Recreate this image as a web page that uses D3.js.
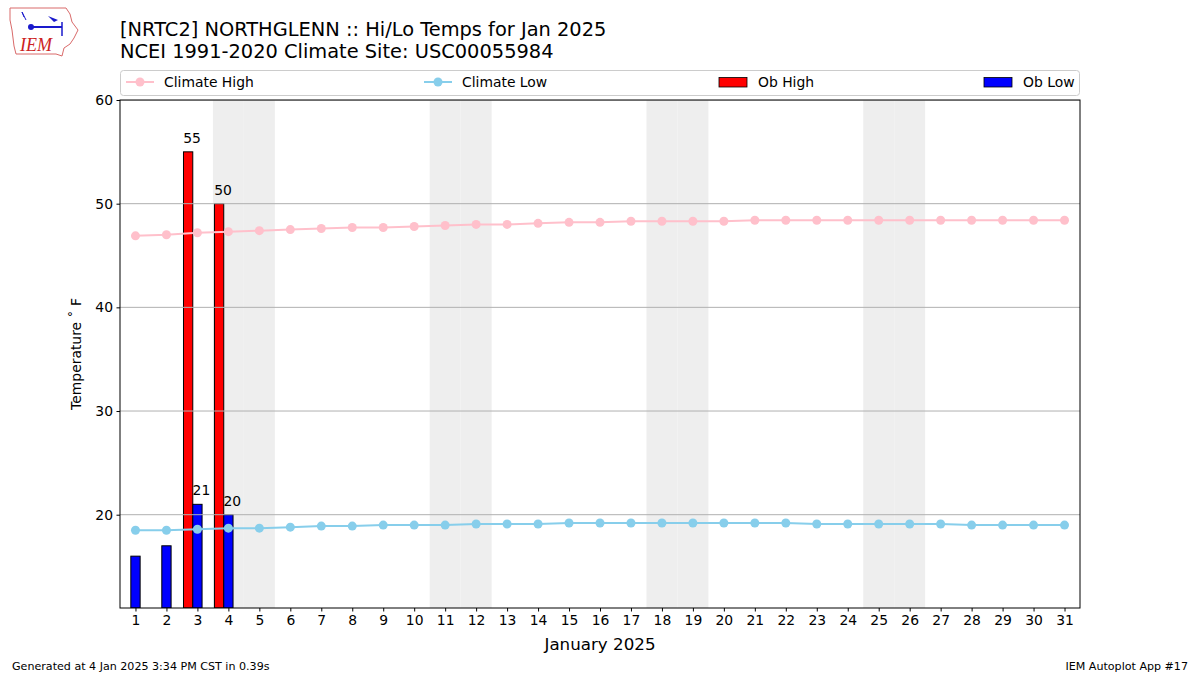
<!DOCTYPE html>
<html>
<head>
<meta charset="utf-8">
<script src="https://cdn.jsdelivr.net/npm/d3@7"></script>
<style>
  body { margin: 0; background: #fff; }
  svg { display: block; font-family: "DejaVu Sans", sans-serif; }
</style>
</head>
<body>
<svg id="chart" width="1200" height="675"></svg>
<script>
// ---------------- data ----------------
const days = d3.range(1, 32);
const climateHigh = [46.9, 47.0, 47.2, 47.3, 47.4, 47.5, 47.6, 47.7, 47.7, 47.8,
                     47.9, 48.0, 48.0, 48.1, 48.2, 48.2, 48.3, 48.3, 48.3, 48.3,
                     48.4, 48.4, 48.4, 48.4, 48.4, 48.4, 48.4, 48.4, 48.4, 48.4, 48.4];
const climateLow = [18.5, 18.5, 18.6, 18.7, 18.7, 18.8, 18.9, 18.9, 19.0, 19.0,
                    19.0, 19.1, 19.1, 19.1, 19.2, 19.2, 19.2, 19.2, 19.2, 19.2,
                    19.2, 19.2, 19.1, 19.1, 19.1, 19.1, 19.1, 19.0, 19.0, 19.0, 19.0];
const obDays = [1, 2, 3, 4];
const obHigh = [null, null, 55, 50];
const obLow = [16, 17, 21, 20];
const weekendDays = [4, 5, 11, 12, 18, 19, 25, 26];
const yTicks = [20, 30, 40, 50, 60];
const titleLines = ["[NRTC2] NORTHGLENN :: Hi/Lo Temps for Jan 2025",
                    "NCEI 1991-2020 Climate Site: USC00055984"];
const legendItems = [
  {label: "Climate High", type: "line", color: "#ffc0cb"},
  {label: "Climate Low", type: "line", color: "#87ceeb"},
  {label: "Ob High", type: "rect", color: "#ff0000"},
  {label: "Ob Low", type: "rect", color: "#0000ff"}
];

// ---------------- layout ----------------
const FS = 13.9;
const svg = d3.select("#chart");
const L = 120, R = 1080, T = 100, B = 608;
const x = d3.scaleLinear().domain([0.5, 31.5]).range([L, R]);
const y = d3.scaleLinear().domain([11, 60]).range([B, T]);
const dayW = x(1) - x(0);
const barW = 0.3 * dayW;

svg.append("defs").append("clipPath").attr("id", "plotclip")
  .append("rect").attr("x", L).attr("y", T).attr("width", R - L).attr("height", B - T);

const plot = svg.append("g").attr("clip-path", "url(#plotclip)");

// weekend shading
plot.selectAll("rect.wk").data(weekendDays).enter().append("rect")
  .attr("class", "wk")
  .attr("x", d => x(d - 0.5)).attr("y", T)
  .attr("width", dayW).attr("height", B - T)
  .attr("fill", "#eeeeee");

// bars
const obs = obDays.map((d, i) => ({day: d, hi: obHigh[i], lo: obLow[i]}));
plot.selectAll("rect.hi").data(obs.filter(o => o.hi != null)).enter().append("rect")
  .attr("class", "hi")
  .attr("x", d => x(d.day - 0.45)).attr("y", d => y(d.hi))
  .attr("width", barW).attr("height", d => B - y(d.hi))
  .attr("fill", "#ff0000").attr("stroke", "#000").attr("stroke-width", 1);
plot.selectAll("rect.lo").data(obs).enter().append("rect")
  .attr("class", "lo")
  .attr("x", d => x(d.day - 0.15)).attr("y", d => y(d.lo))
  .attr("width", barW).attr("height", d => B - y(d.lo))
  .attr("fill", "#0000ff").attr("stroke", "#000").attr("stroke-width", 1);

// grid over bars
plot.selectAll("line.grid").data(yTicks).enter().append("line")
  .attr("x1", L).attr("x2", R)
  .attr("y1", d => y(d)).attr("y2", d => y(d))
  .attr("stroke", "#b0b0b0").attr("stroke-width", 1);

// climate lines
function drawLine(vals, color) {
  const pts = days.map((d, i) => [d, vals[i]]);
  plot.append("path").datum(pts)
    .attr("d", d3.line().x(p => x(p[0])).y(p => y(p[1])))
    .attr("fill", "none").attr("stroke", color).attr("stroke-width", 2);
  plot.selectAll(null).data(pts).enter().append("circle")
    .attr("cx", p => x(p[0])).attr("cy", p => y(p[1])).attr("r", 4.5)
    .attr("fill", color);
}
drawLine(climateHigh, "#ffc0cb");
drawLine(climateLow, "#87ceeb");

// bar labels
const lab = svg.append("g").attr("font-size", FS).attr("fill", "#000").attr("text-anchor", "middle");
obs.filter(o => o.hi != null).forEach(o => {
  lab.append("text").attr("x", x(o.day - 0.3) + 4).attr("y", y(o.hi) - 9).text(o.hi);
});
obs.filter(o => o.day >= 3).forEach(o => {
  lab.append("text").attr("x", x(o.day) + 4).attr("y", y(o.lo) - 9).text(o.lo);
});

// frame
svg.append("rect").attr("x", L).attr("y", T).attr("width", R - L).attr("height", B - T)
  .attr("fill", "none").attr("stroke", "#000").attr("stroke-width", 1);

// axes
const xAxis = d3.axisBottom(x).tickValues(days).tickSize(3.5).tickPadding(3.5).tickFormat(d3.format("d"));
const gx = svg.append("g").attr("transform", `translate(0,${B})`).call(xAxis);
gx.select(".domain").remove();
gx.selectAll("text").attr("font-size", FS).attr("fill", "#000").attr("font-family", "DejaVu Sans, sans-serif");
gx.selectAll("line").attr("stroke", "#000");

const yAxis = d3.axisLeft(y).tickValues(yTicks).tickSize(3.5).tickPadding(3.5);
const gy = svg.append("g").attr("transform", `translate(${L},0)`).call(yAxis);
gy.select(".domain").remove();
gy.selectAll("text").attr("font-size", FS).attr("fill", "#000").attr("font-family", "DejaVu Sans, sans-serif");
gy.selectAll("line").attr("stroke", "#000");

// axis labels
svg.append("text").attr("x", 600).attr("y", 650).attr("text-anchor", "middle")
  .attr("font-size", 16.7).text("January 2025");
svg.append("text").attr("transform", "translate(81,354) rotate(-90)").attr("text-anchor", "middle")
  .attr("font-size", FS).text("Temperature ˚ F");

// title
svg.selectAll("text.title").data(titleLines).enter().append("text")
  .attr("class", "title").attr("x", 120).attr("y", (d, i) => 36 + i * 22)
  .attr("font-size", 19.4).attr("fill", "#000").text(d => d);

// legend
const lg = svg.append("g");
lg.append("rect").attr("x", 120.5).attr("y", 70.5).attr("width", 959).attr("height", 25)
  .attr("rx", 3).attr("fill", "#fff").attr("stroke", "#cccccc");
const legX = [126, 424, 719, 984];
legendItems.forEach((it, i) => {
  const g = lg.append("g").attr("transform", `translate(${legX[i]},82)`);
  if (it.type === "line") {
    g.append("line").attr("x1", 0).attr("x2", 28).attr("y1", 0).attr("y2", 0)
      .attr("stroke", it.color).attr("stroke-width", 2);
    g.append("circle").attr("cx", 14).attr("cy", 0).attr("r", 4.5).attr("fill", it.color);
    g.append("text").attr("x", 38).attr("y", 5).attr("font-size", FS).text(it.label);
  } else {
    g.append("rect").attr("x", 0).attr("y", -4.5).attr("width", 28).attr("height", 9.5)
      .attr("fill", it.color).attr("stroke", "#000").attr("stroke-width", 0.8);
    g.append("text").attr("x", 39).attr("y", 5).attr("font-size", FS).text(it.label);
  }
});

// footer
svg.append("text").attr("x", 12).attr("y", 670).attr("font-size", 11.1).text("Generated at 4 Jan 2025 3:34 PM CST in 0.39s");
svg.append("text").attr("x", 1188).attr("y", 670).attr("font-size", 11.1).attr("text-anchor", "end").text("IEM Autoplot App #17");

// logo (approximation)
const logo = svg.append("g");
logo.append("path")
  .attr("d", "M10,8 L66,8 L70,14 L72,22 L78,30 L74,38 L70,44 L64,48 L62,56 L56,54 L16,54 L14,46 L12,30 L10,20 Z")
  .attr("fill", "none").attr("stroke", "#d96a6a").attr("stroke-width", 1);
logo.append("line").attr("x1", 30).attr("y1", 27).attr("x2", 62).attr("y2", 27).attr("stroke", "#1a1acc").attr("stroke-width", 2);
logo.append("circle").attr("cx", 31).attr("cy", 27).attr("r", 3).attr("fill", "#1a1acc");
logo.append("path").attr("d", "M48,16 L58,20 L54,22 Z").attr("fill", "#1a1acc");
logo.append("line").attr("x1", 62).attr("y1", 22).attr("x2", 62).attr("y2", 36).attr("stroke", "#1a1acc").attr("stroke-width", 1.5);
logo.append("path").attr("d", "M22,12 L26,20 M22,12 L24,17").attr("stroke", "#1a1acc").attr("stroke-width", 1).attr("fill", "none");
logo.append("text").attr("x", 20).attr("y", 51).attr("font-family", "Liberation Serif, serif")
  .attr("font-style", "italic").attr("font-size", 18).attr("fill", "#cc2222").text("IEM");
</script>
</body>
</html>
